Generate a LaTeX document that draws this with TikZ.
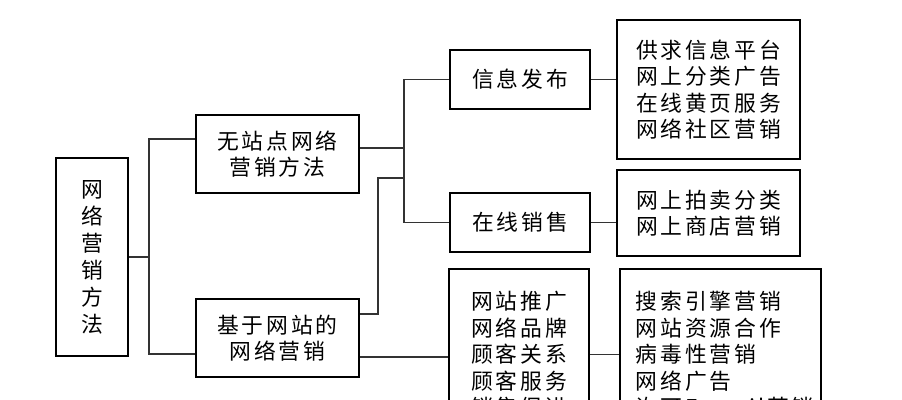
\documentclass[tikz,border=0pt]{standalone}
\usepackage{fontspec}
\newfontfamily\cjk[LetterSpace=13]{Noto Sans CJK SC}
\usepackage{tikz}

\begin{document}
\begin{tikzpicture}[x=0.025cm,y=-0.025cm,
    box/.style={draw,line width=1.5pt,inner sep=0pt,align=center,
      font=\cjk\fontsize{15.5}{18.8}\selectfont},
    link/.style={draw=black!80,line width=0.9pt}]
    \useasboundingbox (0,0) rectangle (902,400);
    \clip (0,0) rectangle (902,400);
    % level 0 and 1
    \node[box,minimum width=1.8cm,minimum height=4.95cm,
      font=\cjk\fontsize{15.5}{19.2}\selectfont] (root) at (92,257)
      {网\\络\\营\\销\\方\\法};
    \node[box,minimum width=4.075cm,minimum height=1.95cm] (nosite) at (277.5,154)
      {无站点网络\\营销方法};
    \node[box,minimum width=4.075cm,minimum height=1.95cm] (site) at (277.5,338)
      {基于网站的\\网络营销};
    % level 2
    \node[box,minimum width=3.5cm,minimum height=1.475cm] (info) at (520,79.5) {信息发布};
    \node[box,minimum width=3.5cm,minimum height=1.475cm] (sale) at (520,222.5) {在线销售};
    \node[box,minimum width=3.5cm,minimum height=4.275cm] (promo) at (519,354.5)
      {网站推广\\网络品牌\\顾客关系\\顾客服务\\销售促进};
    % level 3
    \node[box,minimum width=4.575cm,minimum height=3.475cm] (plat) at (708.5,89.5)
      {供求信息平台\\网上分类广告\\在线黄页服务\\网络社区营销};
    \node[box,minimum width=4.575cm,minimum height=2.15cm] (auct) at (708.5,213)
      {网上拍卖分类\\网上商店营销};
    \node[box,minimum width=5.025cm,minimum height=4.275cm,text width=4.225cm,
      align=left] (tools) at (720.5,354.5)
      {\mbox{搜索引擎营销}\\\mbox{网站资源合作}\\\mbox{病毒性营销}\\\mbox{网络广告}\\\mbox{许可E-mail营销}};
    % connectors
    \coordinate (j1) at (149,0);
    \coordinate (j2) at (404,0);
    \coordinate (j3) at (378,0);
    \draw[link] (root.east) -- (j1 |- root.east);
    \draw[link] (nosite.west |- 0,139) -- (j1 |- 0,139) -- (j1 |- 0,354) -- (site.west |- 0,354);
    \draw[link] (nosite.east |- 0,148) -- (j2 |- 0,148);
    \draw[link] (info.west) -- (j2 |- info.west) -- (j2 |- sale.west) -- (sale.west);
    \draw[link] (site.east |- 0,314) -- (j3 |- 0,314) -- (j3 |- 0,178) -- (j2 |- 0,178);
    \draw[link] (site.east |- 0,357) -- (promo.west |- 0,357);
    \draw[link] (info.east) -- (plat.west |- info.east);
    \draw[link] (sale.east) -- (auct.west |- sale.east);
    \draw[link] (promo.east) -- (tools.west);
\end{tikzpicture}
\end{document}
